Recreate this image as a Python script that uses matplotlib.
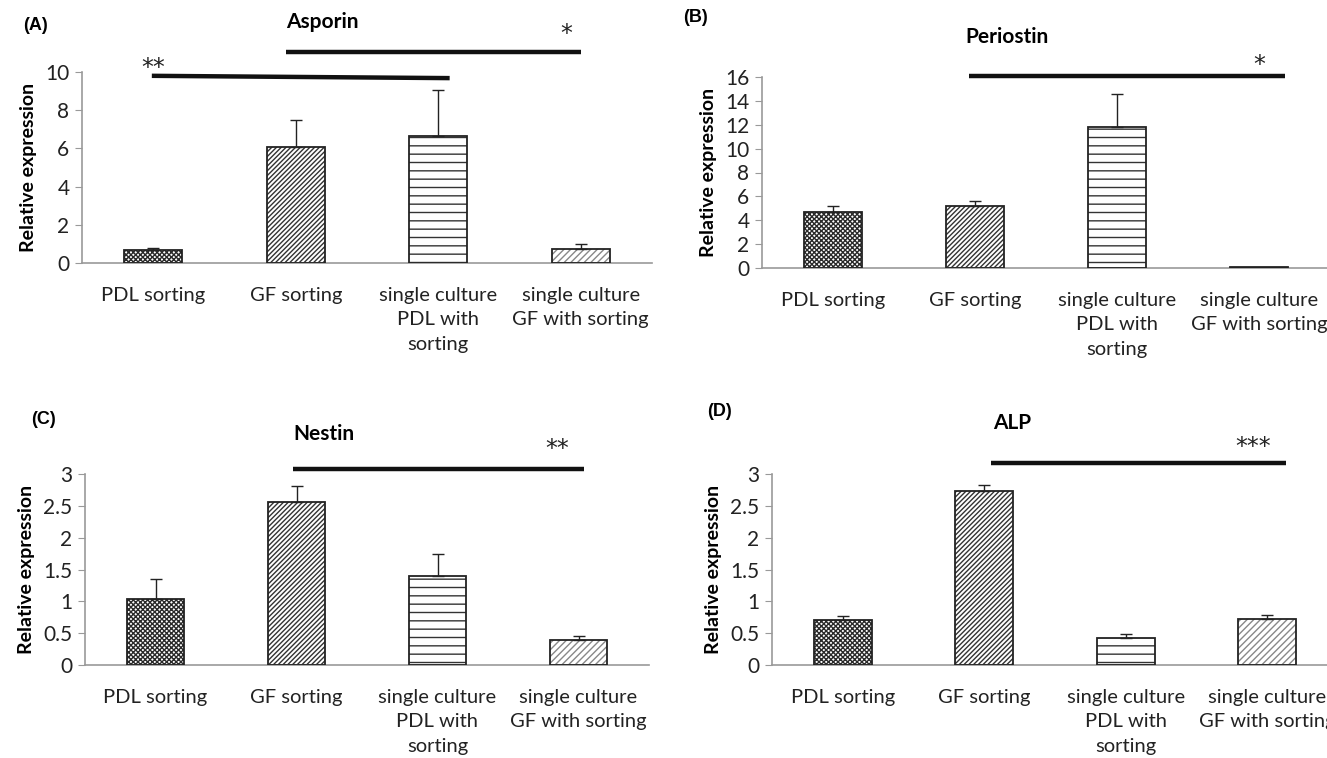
import matplotlib
matplotlib.use("Agg")
import matplotlib.pyplot as plt

plt.rcParams['font.family'] = ['Lato', 'DejaVu Sans']
plt.rcParams['hatch.linewidth'] = 1.0

categories = ["PDL sorting", "GF sorting", "single culture\nPDL with\nsorting",
              "single culture\nGF with sorting"]

asporin = [0.70, 6.05, 6.66, 0.73]
asporin_err = [0.08, 1.45, 2.42, 0.27]
periostin = [4.69, 5.19, 11.8, 0.05]
periostin_err = [0.5, 0.4, 2.8, 0.0]
nestin = [1.04, 2.56, 1.405, 0.39]
nestin_err = [0.31, 0.25, 0.335, 0.07]
alp = [0.707, 2.74, 0.42, 0.72]
alp_err = [0.065, 0.09, 0.06, 0.07]

hatches = ['xxxxxxx', '///////', '--', '/////']
hatch_colors = ['#2a2a2a', '#333333', '#333333', '#888888']

fig = plt.figure(figsize=(13.27, 7.58), dpi=100)

panels = [
    # label, title, values, errors, ymax, ystep, rect, sig lines, label pos, title pos
    ("(A)", "Asporin", asporin, asporin_err, 10, 2,
     [82/1327, 1-263/758, 570/1327, 191/758],
     [(-0.01, 2.08, 9.80, 9.68, "**", 0.0, 10.2), (0.93, 3.0, 11.05, 11.05, "*", 2.9, 12.0)],
     (36, 25), (322, 22)),
    ("(B)", "Periostin", periostin, periostin_err, 16, 2,
     [762/1327, 1-268/758, 568/1327, 191/758],
     [(0.96, 3.18, 16.08, 16.08, "*", 3.0, 17.0)],
     (695, 17), (1007, 37)),
    ("(C)", "Nestin", nestin, nestin_err, 3, 0.5,
     [85/1327, 1-665/758, 564/1327, 191/758],
     [(0.975, 3.04, 3.08, 3.08, "**", 2.85, 3.40)],
     (44, 419), (324, 434)),
    ("(D)", "ALP", alp, alp_err, 3, 0.5,
     [772/1327, 1-665/758, 566/1327, 191/758],
     [(1.05, 3.13, 3.18, 3.18, "***", 2.9, 3.43)],
     (720, 412), (1012, 423)),
]

for lab, title, vals, errs, ymax, ystep, rect, sigs, lpos, tpos in panels:
    ax = fig.add_axes(rect)
    x = range(len(categories))
    for i in x:
        ax.bar(i, vals[i], width=0.41, color='white', edgecolor=hatch_colors[i],
               hatch=hatches[i], linewidth=0, zorder=2)
        ax.bar(i, vals[i], width=0.41, color='none', edgecolor='#222222',
               linewidth=1.3, zorder=3)
        if errs[i] > 0:
            ax.errorbar(i, vals[i], yerr=[[0], [errs[i]]], fmt='none',
                        ecolor='#222222', elinewidth=1, capsize=4, capthick=1, zorder=4)
    ax.set_xlim(-0.5, 3.5)
    ax.set_ylim(0, ymax)
    ticks = []
    t = 0
    while t <= ymax + 1e-9:
        ticks.append(t)
        t += ystep
    ax.set_yticks(ticks)
    ax.set_yticklabels([('%g' % v) for v in ticks])
    ax.set_xticks(list(x))
    ax.set_xticklabels(categories, fontsize=14.5, linespacing=1.55, va='top', color='#222222')
    ax.tick_params(axis='x', length=0, pad=17)
    ax.tick_params(axis='y', length=5, color='#999999', labelsize=15, pad=4,
                   labelcolor='#222222')
    for s in ['top', 'right']:
        ax.spines[s].set_visible(False)
    for s in ['left', 'bottom']:
        ax.spines[s].set_color('#999999')
        ax.spines[s].set_linewidth(1.2)
    ax.set_ylabel("Relative expression", fontsize=14, fontweight='bold', labelpad=6)
    for x0, x1, y0, y1, star, sx, sy in sigs:
        ax.plot([x0, x1], [y0, y1], color='#111111', linewidth=3.2, clip_on=False,
                solid_capstyle='butt')
        ax.text(sx, sy, star, fontsize=17, ha='center', va='center', clip_on=False,
                family='DejaVu Sans', color='#222222')
    fig.text(lpos[0]/1327, 1-lpos[1]/758, lab, fontsize=13, fontweight='bold',
             family='Liberation Sans', ha='center', va='center')
    fig.text(tpos[0]/1327, 1-tpos[1]/758, title, fontsize=15, fontweight='bold',
             ha='center', va='center')

fig.savefig("out.png", dpi=100)
